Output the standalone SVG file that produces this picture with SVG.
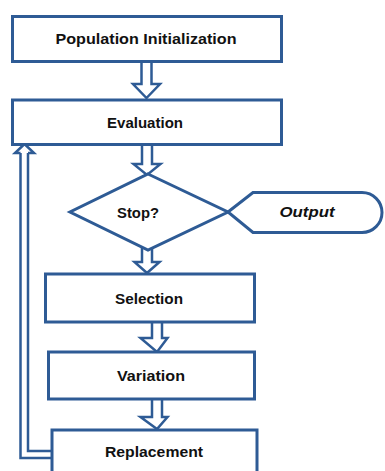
<svg xmlns="http://www.w3.org/2000/svg" width="385" height="471" viewBox="0 0 385 471">
<style>
.box{fill:#fff;stroke:#2e5b95;stroke-width:3}
.arr{fill:#fff;stroke:#2e5b95;stroke-width:2.5;stroke-linejoin:miter}
.ln{fill:none;stroke:#2e5b95;stroke-width:2.5}
.t{font-family:"Liberation Sans",Arial,sans-serif;font-weight:bold;font-size:14.5px;fill:#111;text-anchor:middle}
</style>
<rect width="385" height="471" fill="#fff"/>
<g id="connectors">
<path class="arr" d="M141.5,62 V84 H133 L146.5,98 L160,84 H151.5 V62"/>
<path class="arr" d="M142,145 V164 H133.5 L147,175 L160.5,164 H152 V145"/>
<path class="arr" d="M142,248 V262 H134.5 L147,273 L159.5,262 H152 V248"/>
<path class="arr" d="M152,322 V338 H140.5 L157,352 L167.5,338 H162 V322"/>
<path class="arr" d="M152,399 V417 H140.5 L157,429 L167.5,417 H162 V399"/>
<path class="ln" d="M52,458 H20.5 V153"/>
<path class="ln" d="M52,451 H28 V153"/>
<path class="arr" d="M20.5,153 H15 L24.5,144 L34,153 H28"/>
</g>
<g id="n1"><rect class="box" x="12.5" y="16.5" width="269" height="45"/><text class="t" x="146" y="44" textLength="181" lengthAdjust="spacingAndGlyphs">Population Initialization</text></g>
<g id="n2"><rect class="box" x="12.5" y="100" width="269" height="44.5"/><text class="t" x="145" y="128" textLength="76" lengthAdjust="spacingAndGlyphs">Evaluation</text></g>
<g id="n3"><polygon class="box" points="148,174 228,212 148,250 70,212"/><text class="t" x="138" y="218" textLength="42" lengthAdjust="spacingAndGlyphs">Stop?</text></g>
<g id="n4"><path class="box" d="M228,212 L253,192.5 H362 A20,20 0 0 1 362,232.5 H253 Z"/><text class="t" x="307" y="217" font-style="italic" textLength="55" lengthAdjust="spacingAndGlyphs">Output</text></g>
<g id="n5"><rect class="box" x="45.5" y="274" width="209" height="48"/><text class="t" x="149" y="304" textLength="68" lengthAdjust="spacingAndGlyphs">Selection</text></g>
<g id="n6"><rect class="box" x="48.5" y="352" width="206" height="47"/><text class="t" x="151" y="381" textLength="68" lengthAdjust="spacingAndGlyphs">Variation</text></g>
<g id="n7"><rect class="box" x="52" y="430" width="205" height="50"/><text class="t" x="154" y="457" textLength="98" lengthAdjust="spacingAndGlyphs">Replacement</text></g>
</svg>
